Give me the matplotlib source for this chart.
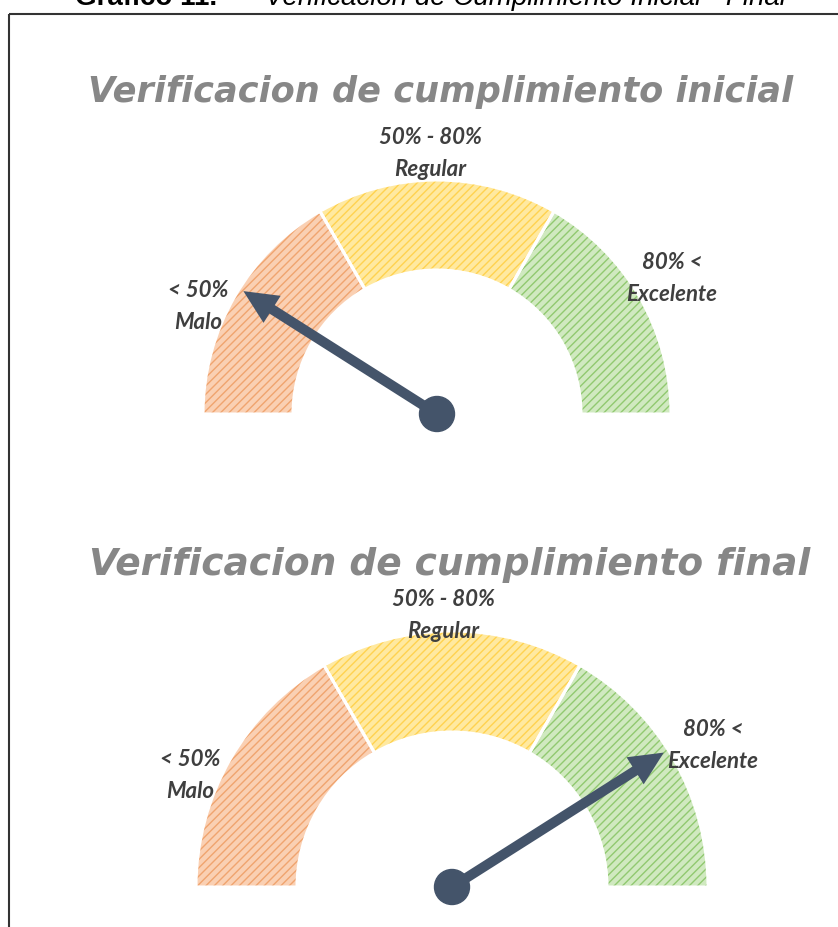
#import libraries
import matplotlib
matplotlib.use('Agg')
import matplotlib.pyplot as plt
from matplotlib.patches import Wedge, Circle, FancyArrow
import numpy as np

# Data
header_num = 'Gráfico 11.'
header_text = 'Verificación de Cumplimiento Inicial - Final'
gauge_titles = ['Verificacion de cumplimiento inicial', 'Verificacion de cumplimiento final']
range_labels = ['< 50%', '50% - 80%', '80% <']
level_labels = ['Malo', 'Regular', 'Excelente']
segment_sizes = [1, 1, 1]
needle_values = [18, 82]   # posicion de la aguja, escala 0-100

seg_faces = ['#FAD0B3', '#FFE9A0', '#D0E9C0']
seg_hatch = ['#F0A46F', '#FFD24F', '#91C970']
needle_color = '#44546A'

W, H = 838, 927

def Y(y):
    # pixel row (from top) -> data y
    return H - y

# layout of each gauge in pixels: center, outer radius, inner radius, title, labels
layouts = [
    dict(center=(437, 414), r_out=234, r_in=144, title=(441, 92), title_size=25.3,
         label_pos=[(198, 290, 322), (430, 137, 169), (672, 262, 294)]),
    dict(center=(452, 887), r_out=256, r_in=155, title=(450, 565), title_size=27,
         label_pos=[(190, 760, 792), (443, 600, 632), (713, 729, 762)]),
]

plt.rcParams['hatch.linewidth'] = 1.0

fig = plt.figure(figsize=(W / 100, H / 100), dpi=100)
ax = fig.add_axes([0, 0, 1, 1])
ax.set_xlim(0, W)
ax.set_ylim(0, H)
ax.axis('off')

# header (cut at the top, as in the source) and frame
ax.text(75, Y(5), header_num, family='Liberation Sans', fontweight='bold',
        fontsize=20, va='baseline', ha='left', color='black')
ax.text(265, Y(5), header_text, family='Liberation Sans', style='italic',
        fontsize=20, va='baseline', ha='left', color='black')
ax.plot([9, 9], [0, Y(14)], color='#333333', lw=1.5, solid_capstyle='butt')
ax.plot([9, W], [Y(14), Y(14)], color='#333333', lw=1.5, solid_capstyle='butt')

total = sum(segment_sizes)
for g, lay in enumerate(layouts):
    cx, cy = lay['center']
    cy = Y(cy)
    r_out, r_in = lay['r_out'], lay['r_in']

    # segments from left (180 deg) to right (0 deg)
    start = 180.0
    for i, size in enumerate(segment_sizes):
        end = start - 180.0 * size / total
        ax.add_patch(Wedge((cx, cy), r_out, end, start, width=r_out - r_in,
                           facecolor=seg_faces[i], edgecolor=seg_hatch[i],
                           hatch='////', lw=0, zorder=2))
        ax.add_patch(Wedge((cx, cy), r_out, end, start, width=r_out - r_in,
                           facecolor='none', edgecolor='white', lw=2.2, zorder=3))
        lx, ly1, ly2 = lay['label_pos'][i]
        for txt, ly in [(range_labels[i], ly1), (level_labels[i], ly2)]:
            ax.text(lx, Y(ly), txt, family='Lato', fontweight='bold', style='italic',
                    fontsize=16, color='#3F3F3F', ha='center', va='center', zorder=6)
        start = end

    # title
    tx, ty = lay['title']
    ax.text(tx, Y(ty), gauge_titles[g], family='DejaVu Sans', fontweight='bold',
            style='italic', fontsize=lay['title_size'], color='#878787',
            ha='center', va='center')

    # needle
    ang = np.radians(180.0 - needle_values[g] / 100.0 * 180.0)
    length = 0.98 * r_out
    ax.add_patch(FancyArrow(cx, cy, length * np.cos(ang), length * np.sin(ang),
                            width=10, head_width=32, head_length=34,
                            length_includes_head=True, color=needle_color, lw=0, zorder=4))
    ax.add_patch(Circle((cx, cy), 17.5, color=needle_color, zorder=5))

fig.savefig('out.png', dpi=100)
